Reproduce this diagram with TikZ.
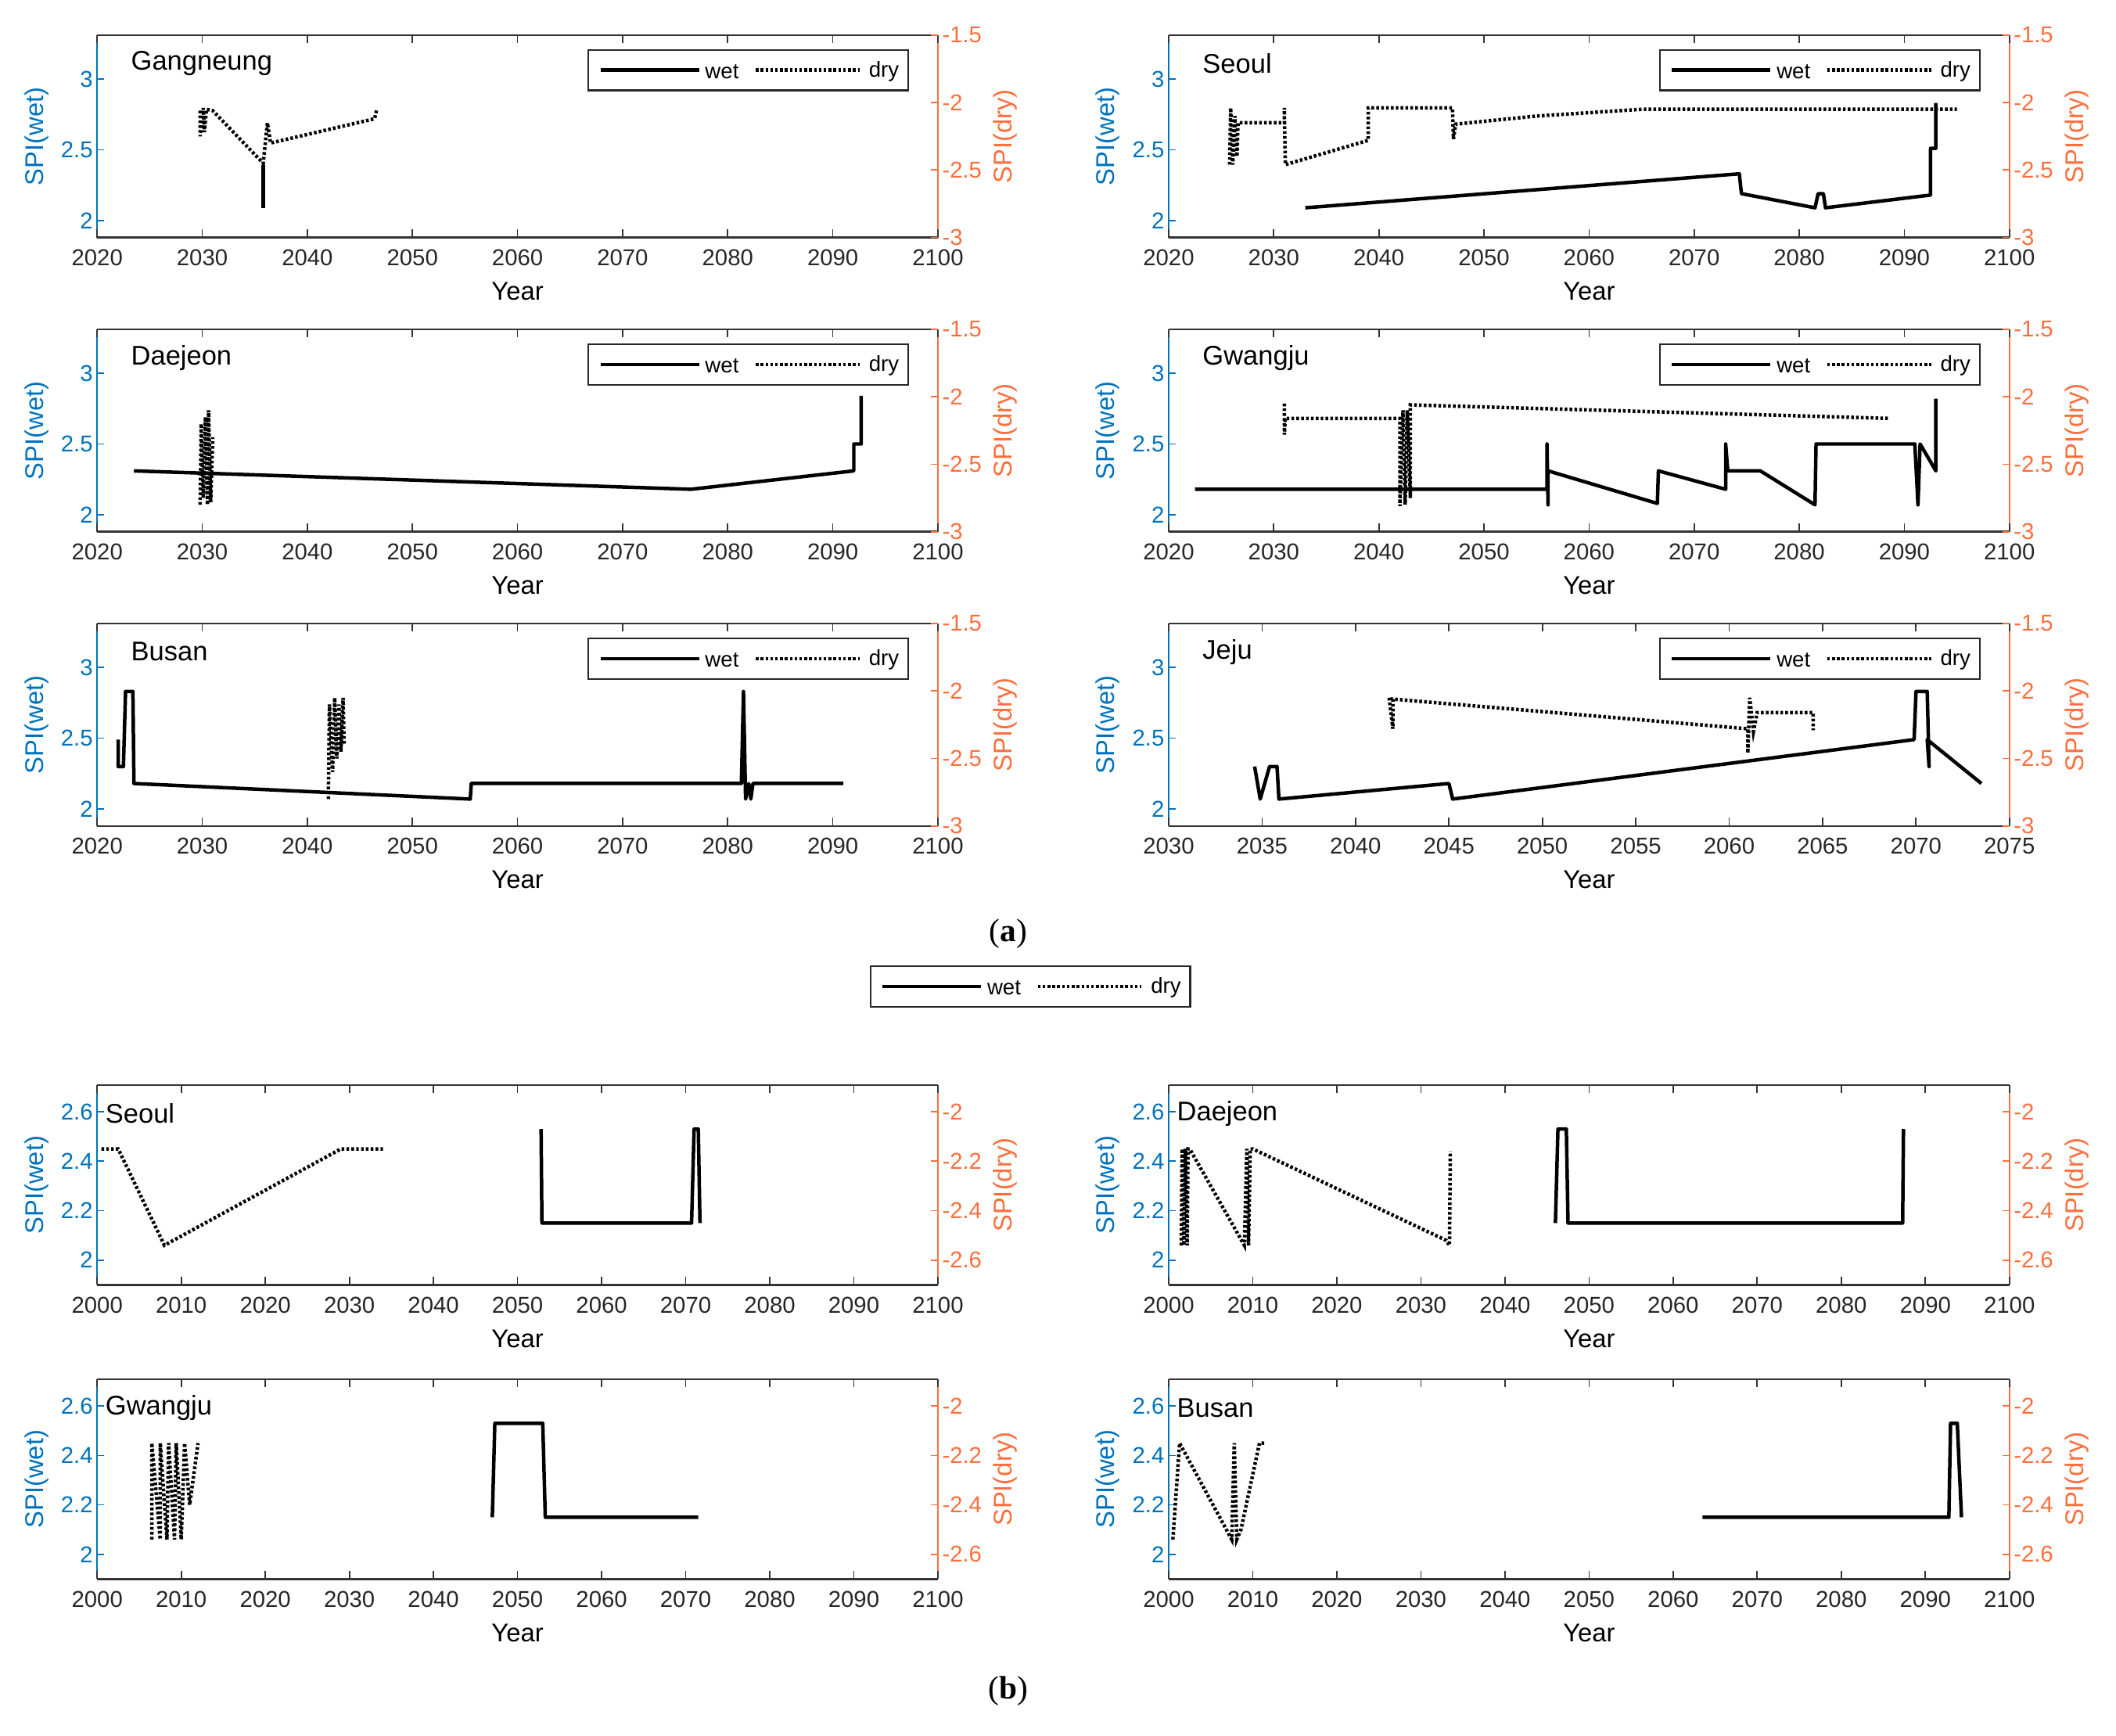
\documentclass[tikz,border=0pt]{standalone}
\usepackage{fontspec}
\setmainfont{Liberation Sans}
\newfontfamily\serifff{Liberation Serif}
\begin{document}
\definecolor{cb}{RGB}{0,114,189}
\definecolor{co}{RGB}{255,110,60}
\begin{tikzpicture}[x=1pt,y=1pt,
  tick/.style={font=\fontsize{17}{19}\selectfont,text=black!85,inner sep=0pt},
  lab/.style={font=\fontsize{19}{21}\selectfont,inner sep=0pt},
  pname/.style={font=\fontsize{20}{22}\selectfont,inner sep=0pt,anchor=west},
  wet/.style={line width=2.6pt,line join=round,black},
  dry/.style={line width=2.6pt,dash pattern=on 2pt off 1.6pt,black},
  wetsc/.style={shift={(\ox pt,\ow pt)},x=\sx pt,y=\sw pt},
  drysc/.style={shift={(\ox pt,\od pt)},x=\sx pt,y=\sd pt}]
\useasboundingbox (0,0) rectangle (1568,1286);
\newcommand\DrawPanel[2]{%
 \pgfmathsetmacro\pB{1286-\pT-\pH}%
 \pgfmathsetmacro\sx{\pW/(\xb-\xa)}%
 \pgfmathsetmacro\sw{\pH/(\wb-\wa)}%
 \pgfmathsetmacro\sd{\pH/(\db-\da)}%
 \pgfmathsetmacro\ox{\pL-\xa*\sx}%
 \pgfmathsetmacro\ow{\pB-\wa*\sw}%
 \pgfmathsetmacro\od{\pB-\da*\sd}%
 \draw[line width=1.4pt,black!80] ({\pL},{\pB}) -- ({\pL+\pW},{\pB}) ({\pL},{\pB+\pH}) -- ({\pL+\pW},{\pB+\pH});
 \draw[line width=1.4pt,cb] ({\pL},{\pB}) -- ({\pL},{\pB+\pH});
 \draw[line width=1.4pt,co] ({\pL+\pW},{\pB}) -- ({\pL+\pW},{\pB+\pH});
 \foreach \t in \xt {\draw[line width=1pt,black!80] ({\ox+\t*\sx},{\pB}) -- ++(0,6) ({\ox+\t*\sx},{\pB+\pH}) -- ++(0,-6);
   \pgfmathtruncatemacro\lab{2000+\t}
   \node[tick] at ({\ox+\t*\sx},{\pB-15}) {\lab};}
 \foreach \v in \wt {\draw[cb,line width=1pt] ({\pL},{\ow+(\v)*\sw}) -- ++(5,0);
   \node[tick,text=cb,anchor=east] at ({\pL-3},{\ow+(\v)*\sw}) {\v};}
 \foreach \v in \dt {\draw[co,line width=1pt] ({\pL+\pW},{\od+(\v)*\sd}) -- ++(-5,0);
   \node[tick,text=co,anchor=west] at ({\pL+\pW+3},{\od+(\v)*\sd}) {\v};}
 \node[lab] at ({\pL+\pW/2},{\pB-40}) {Year};
 \node[lab,text=cb,rotate=90] at ({\pL-45},{\pB+\pH/2}) {SPI(wet)};
 \node[lab,text=co,rotate=90] at ({\pL+\pW+50},{\pB+\pH/2}) {SPI(dry)};
 \node[pname] at ({\pL+#2},{\pB+\pH-21}) {#1};
}
\newcommand\Legend[2]{%
 \draw[line width=1.3pt,black!85] (#1,#2) rectangle ++(237,-30);
 \draw[wet] ({#1+9},{#2-15}) -- ++(73,0);
 \node[font=\fontsize{16}{18}\selectfont,inner sep=0pt] at ({#1+99},{#2-16}) {wet};
 \draw[dry] ({#1+124},{#2-15}) -- ++(77,0);
 \node[font=\fontsize{16}{18}\selectfont,inner sep=0pt] at ({#1+219},{#2-16}) {dry};
}
% ================= panel (a) =================
\def\pW{623}\def\pH{150}
\def\wa{1.88}\def\wb{3.31}\def\da{-3}\def\db{-1.5}
\def\wt{2,2.5,3}\def\dt{-3,-2.5,-2,-1.5}
\def\xa{20}\def\xb{100}\def\xt{20,30,...,100}
% Gangneung
\def\pL{72}\def\pT{26}
\DrawPanel{Gangneung}{25}
\Legend{436}{1249}
\begin{scope}[wetsc] \draw[wet] (35.8,2.39) -- (35.8,2.09); \end{scope}
\begin{scope}[drysc] \draw[dry] (29.8,-2.06)--(29.8,-2.25)--(30.1,-2.04)--(30.2,-2.22)--(30.4,-2.05)--(31,-2.06)--(35.8,-2.45)--(36.2,-2.15)--(36.5,-2.3)--(46.4,-2.12)--(46.6,-2.05); \end{scope}
% Seoul
\def\pL{866}\def\pT{26}
\DrawPanel{Seoul}{25}
\Legend{1230}{1249}
\begin{scope}[wetsc] \draw[wet] (33,2.09)--(74.3,2.33)--(74.5,2.19)--(81.5,2.09)--(81.8,2.19)--(82.3,2.19)--(82.5,2.09)--(92.5,2.18)--(92.5,2.51)--(93,2.51)--(93,2.83); \end{scope}
\begin{scope}[drysc] \draw[dry] (25.8,-2.46)--(25.9,-2.04)--(26.1,-2.46)--(26.3,-2.1)--(26.5,-2.4)--(26.6,-2.15)--(31,-2.15)--(31,-2.04)--(31.1,-2.46)--(39,-2.28)--(39,-2.04)--(47,-2.04)--(47.1,-2.27)--(47.3,-2.16)--(55,-2.1)--(65,-2.05)--(95,-2.05); \end{scope}
% Daejeon
\def\pL{72}\def\pT{244}
\DrawPanel{Daejeon}{25}
\Legend{436}{1031}
\begin{scope}[wetsc] \draw[wet] (23.5,2.31)--(76.5,2.18)--(92,2.31)--(92,2.5)--(92.7,2.5)--(92.7,2.84); \end{scope}
\begin{scope}[drysc] \draw[dry] (29.8,-2.8)--(29.9,-2.2)--(30.1,-2.75)--(30.3,-2.15)--(30.5,-2.8)--(30.6,-2.1)--(30.8,-2.78)--(31,-2.3); \end{scope}
% Gwangju
\def\pL{866}\def\pT{244}
\DrawPanel{Gwangju}{25}
\Legend{1230}{1031}
\begin{scope}[wetsc] \draw[wet] (22.5,2.18)--(56,2.18)--(56,2.5)--(56.1,2.07)--(56.1,2.31)--(66.5,2.08)--(66.6,2.31)--(73,2.18)--(73,2.5)--(73.2,2.31)--(76.3,2.31)--(81.5,2.07)--(81.6,2.5)--(91,2.5)--(91.3,2.07)--(91.5,2.5)--(93,2.31)--(93,2.82); \end{scope}
\begin{scope}[drysc] \draw[dry] (31,-2.05)--(31,-2.28)--(31.1,-2.16)--(42,-2.16)--(42,-2.81)--(42.3,-2.1)--(42.5,-2.8)--(42.7,-2.1)--(43,-2.75)--(43,-2.06)--(88.5,-2.16); \end{scope}
% Busan
\def\pL{72}\def\pT{462}
\DrawPanel{Busan}{25}
\Legend{436}{813}
\begin{scope}[wetsc] \draw[wet] (22,2.49)--(22,2.3)--(22.5,2.3)--(22.7,2.83)--(23.4,2.83)--(23.5,2.18)--(55.5,2.07)--(55.6,2.18)--(81.3,2.18)--(81.5,2.83)--(81.7,2.07)--(82,2.18)--(82.2,2.07)--(82.4,2.18)--(91,2.18); \end{scope}
\begin{scope}[drysc] \draw[dry] (42,-2.8)--(42.1,-2.1)--(42.4,-2.6)--(42.6,-2.05)--(42.8,-2.5)--(43,-2.1)--(43.2,-2.45)--(43.4,-2.05)--(43.5,-2.4); \end{scope}
% Jeju
\def\pL{866}\def\pT{462}
\def\xa{30}\def\xb{75}\def\xt{30,35,...,75}
\DrawPanel{Jeju}{25}
\Legend{1230}{813}
\begin{scope}[wetsc] \draw[wet] (34.6,2.3)--(34.9,2.07)--(35.4,2.3)--(35.8,2.3)--(35.9,2.07)--(45,2.18)--(45.2,2.07)--(69.9,2.49)--(70,2.83)--(70.6,2.83)--(70.7,2.3)--(70.6,2.49)--(73.5,2.18); \end{scope}
\begin{scope}[drysc] \draw[dry] (41.8,-2.05)--(42,-2.28)--(42,-2.06)--(61,-2.28)--(61,-2.46)--(61.1,-2.05)--(61.3,-2.3)--(61.5,-2.16)--(64.5,-2.16)--(64.5,-2.29); \end{scope}
\node[font=\serifff\fontsize{24}{26}\selectfont,inner sep=0pt] (la) at (747,594) {(\textbf{a})};
% ================= panel (b) =================
\Legend{645}{570}
\def\pW{623}\def\pH{148}
\def\wa{1.9}\def\wb{2.708}\def\da{-2.7}\def\db{-1.892}
\def\wt{2,2.2,2.4,2.6}\def\dt{-2.6,-2.4,-2.2,-2}
\def\xa{0}\def\xb{100}\def\xt{0,10,...,100}
% Seoul b
\def\pL{72}\def\pT{804}
\DrawPanel{Seoul}{6}
\begin{scope}[wetsc] \draw[wet] (52.8,2.53)--(52.9,2.15)--(70.7,2.15)--(71,2.53)--(71.5,2.53)--(71.7,2.15); \end{scope}
\begin{scope}[drysc] \draw[dry] (0.5,-2.15)--(2.5,-2.15)--(8,-2.54)--(29,-2.15)--(34,-2.15); \end{scope}
% Daejeon b
\def\pL{866}\def\pT{804}
\DrawPanel{Daejeon}{6}
\begin{scope}[wetsc] \draw[wet] (46,2.15)--(46.3,2.53)--(47.3,2.53)--(47.5,2.15)--(87.3,2.15)--(87.4,2.53); \end{scope}
\begin{scope}[drysc] \draw[dry] (1.5,-2.54)--(1.6,-2.15)--(1.8,-2.54)--(2,-2.15)--(2.2,-2.54)--(2.3,-2.15)--(2.5,-2.15)--(9,-2.54)--(9.3,-2.15)--(9.5,-2.54)--(9.7,-2.15)--(10,-2.15)--(33,-2.52)--(33.4,-2.54)--(33.5,-2.16); \end{scope}
% Gwangju b
\def\pL{72}\def\pT{1022}
\DrawPanel{Gwangju}{6}
\begin{scope}[wetsc] \draw[wet] (47,2.15)--(47.3,2.53)--(53,2.53)--(53.3,2.15)--(71.5,2.15); \end{scope}
\begin{scope}[drysc] \draw[dry] (6.5,-2.54)--(6.5,-2.15)--(7.5,-2.54)--(7.5,-2.15)--(8.3,-2.54)--(8.5,-2.15)--(9.2,-2.54)--(9.4,-2.15)--(10,-2.54)--(10.4,-2.15)--(11,-2.4)--(12,-2.15); \end{scope}
% Busan b
\def\pL{866}\def\pT{1022}
\DrawPanel{Busan}{6}
\begin{scope}[wetsc] \draw[wet] (63.5,2.15)--(92.8,2.15)--(93,2.53)--(93.8,2.53)--(94.3,2.15); \end{scope}
\begin{scope}[drysc] \draw[dry] (0.5,-2.54)--(1.3,-2.15)--(7.5,-2.54)--(7.8,-2.15)--(8.1,-2.54)--(8.6,-2.5)--(10.8,-2.15)--(11.5,-2.15); \end{scope}
\node[font=\serifff\fontsize{24}{26}\selectfont,inner sep=0pt] (lb) at (747,33) {(\textbf{b})};
\end{tikzpicture}
\end{document}
